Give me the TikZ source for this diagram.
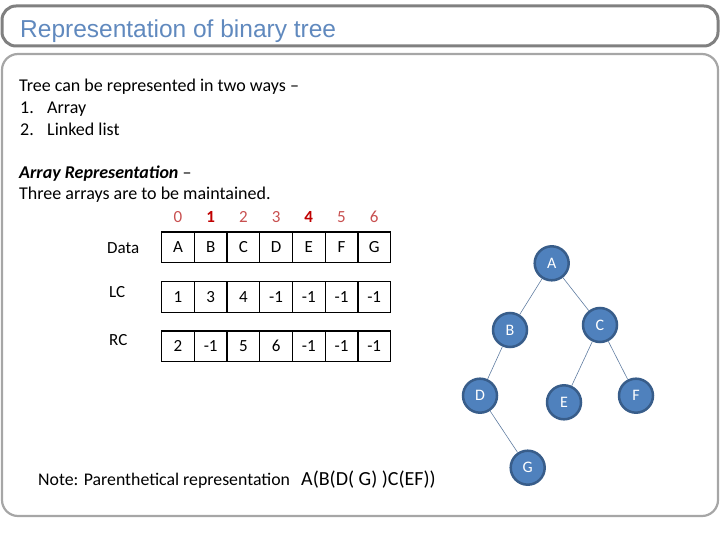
\documentclass[tikz,border=0pt]{standalone}
\usepackage{fontspec}
\setmainfont{Carlito}
\newfontfamily\titlefont{Liberation Sans}
\definecolor{titleblue}{RGB}{96,137,190}
\definecolor{titlegray}{RGB}{128,128,128}
\definecolor{framegray}{RGB}{166,166,166}
\definecolor{treeblue}{RGB}{79,129,189}
\definecolor{treeedge}{RGB}{56,93,138}
\definecolor{idxlight}{RGB}{200,80,80}
\definecolor{idxdark}{RGB}{192,0,0}
\begin{document}
\begin{tikzpicture}[x=1pt, y=-1pt,
    txt/.style={anchor=base west, inner sep=0pt, font=\fontsize{18}{21}\selectfont},
    cell/.style={draw, line width=1.3pt, minimum width=32.7pt, minimum height=30.5pt,
      inner sep=0pt, font=\fontsize{17}{20}\selectfont},
    idxn/.style={inner sep=0pt, text=idxlight, font=\fontsize{17}{20}\selectfont},
    idxb/.style={inner sep=0pt, text=idxdark, font=\fontsize{17}{20}\selectfont\bfseries},
    knot/.style={circle, fill=treeblue, draw=treeedge, line width=2.5pt, minimum size=34pt,
      inner sep=0pt, text=white, font=\fontsize{16}{19}\selectfont},
    branch/.style={draw=treeedge!80, line width=0.6pt}]
  \useasboundingbox (0,0) rectangle (720,540);
  % frames
  \draw[rounded corners=14pt, line width=3pt, titlegray] (2,6) rectangle (718,46);
  \draw[rounded corners=16pt, line width=2.2pt, framegray] (2,54) rectangle (718,516);
  \node[anchor=base west, inner sep=0pt, text=titleblue, font=\titlefont\fontsize{24.5}{28}\selectfont]
    (title) at (20,38) {Representation of binary tree};
  % text
  \node[txt] (intro) at (19,92) {Tree can be represented in two ways --};
  \node[txt] (n1) at (20,114) {1.};
  \node[txt] (w1) at (47,114) {Array};
  \node[txt] (n2) at (20,136) {2.};
  \node[txt] (w2) at (47,136) {Linked list};
  \node[txt] (arrhead) at (19,179) {\textbf{\textit{Array Representation}} --};
  \node[txt] (arrtext) at (19,200) {Three arrays are to be maintained.};
  % arrays
  \foreach \i/\s in {0/idxn,1/idxb,2/idxn,3/idxn,4/idxb,5/idxn,6/idxn}
    \node[\s] (ix\i) at ({178+32.7*\i},217) {\i};
  \node[txt, font=\fontsize{17}{20}\selectfont] (ldata) at (107,254) {Data};
  \node[txt, font=\fontsize{17}{20}\selectfont] (llc) at (109,297) {LC};
  \node[txt, font=\fontsize{17}{20}\selectfont] (lrc) at (109,345) {RC};
  \foreach \v [count=\i from 0] in {A,B,C,D,E,F,G}
    \node[cell] (d\i) at ({178+32.7*\i},247.3) {\v};
  \foreach \v [count=\i from 0] in {1,3,4,-1,-1,-1,-1}
    \node[cell] (l\i) at ({178+32.7*\i},297) {\v};
  \foreach \v [count=\i from 0] in {2,-1,5,6,-1,-1,-1}
    \node[cell] (r\i) at ({178+32.7*\i},346.3) {\v};
  % tree
  \node[knot] (A) at (551.7,263.3) {A};
  \node[knot] (B) at (510,330) {B};
  \node[knot] (C) at (600,325) {C};
  \node[knot] (D) at (480,395.7) {D};
  \node[knot] (E) at (564,402.3) {E};
  \node[knot] (F) at (636,395.7) {F};
  \node[knot] (G) at (527.7,467.7) {G};
  \draw[branch] (A) -- (B);
  \draw[branch] (A) -- (C);
  \draw[branch] (B) -- (D);
  \draw[branch] (C) -- (E);
  \draw[branch] (C) -- (F);
  \draw[branch] (D) -- (G);
  % note
  \node[txt, font=\fontsize{17.8}{21}\selectfont] (note) at (38,485) {Note: Parenthetical representation};
  \node[txt, font=\fontsize{20}{23}\selectfont] (paren) at (301,485) {A(B(D( G) )C(EF))};
\end{tikzpicture}
\end{document}
